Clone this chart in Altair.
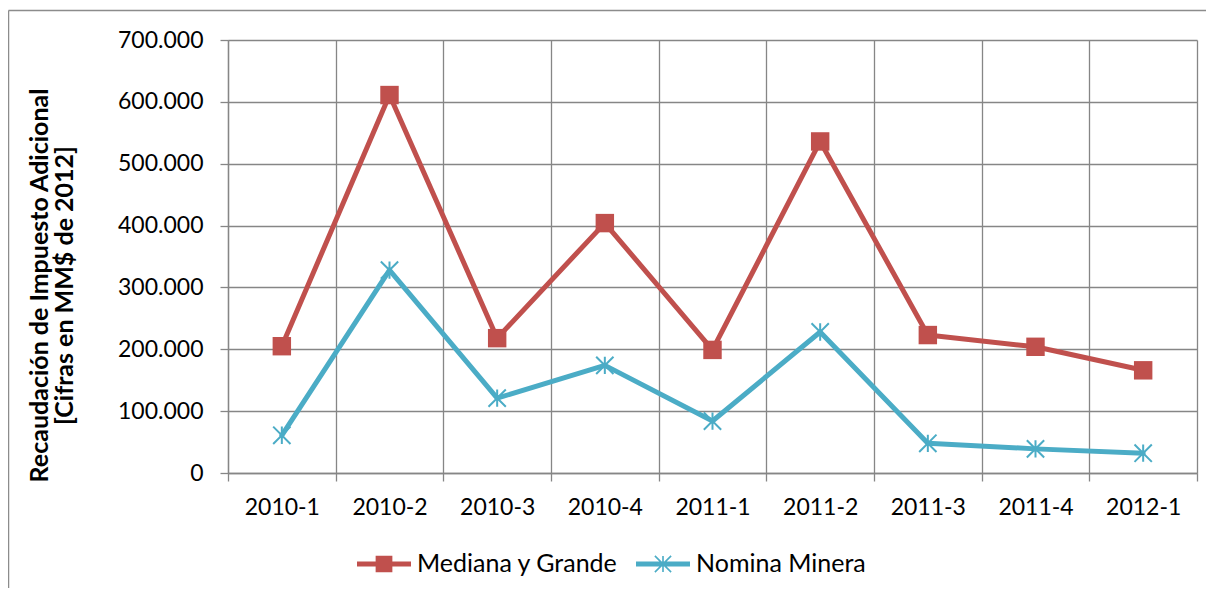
import altair as alt
import pandas as pd
import math

# ---- data ----
periods = ["2010-1", "2010-2", "2010-3", "2010-4", "2011-1",
           "2011-2", "2011-3", "2011-4", "2012-1"]
series_names = ["Mediana y Grande", "Nomina Minera"]
mediana_grande = [205000, 611000, 218000, 404000, 199000, 536000, 223000, 204000, 166000]
nomina_minera = [61000, 328000, 121000, 174000, 84000, 228000, 48000, 39000, 32000]
y_ticks = [0, 100000, 200000, 300000, 400000, 500000, 600000, 700000]
y_title = ["Recaudación de Impuesto Adicional", "[Cifras en MM$ de 2012]"]

colors = ["#C0504D", "#4BACC6"]
GRID = "#868686"
FONT = "Lato"

rows = []
for s, vals in zip(series_names, [mediana_grande, nomina_minera]):
    for p, v in zip(periods, vals):
        rows.append({"periodo": p, "serie": s, "valor": v})
df = pd.DataFrame(rows)

W, H = 969, 433

# marker / legend symbol paths (unit coordinates, scaled by sqrt(size)/2)
asterisk_marker = "M-1,-1L1,1M-1,1L1,-1M0,-1L0,1"


def bar(x1, y1, x2, y2, w):
    dx, dy = x2 - x1, y2 - y1
    L = math.hypot(dx, dy)
    nx, ny = -dy / L * w, dx / L * w
    pts = [(x1 + nx, y1 + ny), (x2 + nx, y2 + ny), (x2 - nx, y2 - ny), (x1 - nx, y1 - ny)]
    return "M" + "L".join(f"{a:.4f},{b:.4f}" for a, b in pts) + "Z"


lw = 0.095   # half thickness of the legend line
sq = 0.31    # half side of the legend square
a = 0.30     # half size of legend asterisk
w = 0.03
legend_square = bar(-1, 0, 1, 0, lw) + bar(-sq, 0, sq, 0, sq)
legend_asterisk = (bar(-1, 0, 1, 0, lw) + bar(-a, -a, a, a, w) + bar(-a, a, a, -a, w)
                   + bar(0, -a, 0, a, w))

color_scale = alt.Scale(domain=series_names, range=colors)
x_enc = alt.X(
    "periodo:N",
    sort=periods,
    scale=alt.Scale(type="band", paddingInner=0, paddingOuter=0),
    axis=alt.Axis(
        title=None, labelAngle=0, grid=True, tickBand="extent",
        gridColor=GRID, gridWidth=1.3, domainColor=GRID, domainWidth=1.3,
        tickColor=GRID, tickWidth=1.3, tickSize=8, labelPadding=15,
        labelFont=FONT, labelFontSize=23, labelColor="#000000",
    ),
)
y_enc = alt.Y(
    "valor:Q",
    scale=alt.Scale(domain=[0, 700000], nice=False),
    axis=alt.Axis(
        values=y_ticks, grid=True, gridColor=GRID, gridWidth=1.3,
        domainColor=GRID, domainWidth=1.3, tickColor=GRID, tickWidth=1.3,
        tickSize=8, labelPadding=17, labelFont=FONT, labelFontSize=23,
        labelColor="#000000",
        labelExpr="replace(format(datum.value, ','), ',', '.')",
        title=y_title, titleFont=FONT, titleFontSize=25, titleFontWeight="bold",
        titleColor="#000000", titleLineHeight=25, titleAngle=-90,
        titleX=-201, titleY=245, titleAlign="center", titleBaseline="top",
    ),
)

base = alt.Chart(df)
leg = dict(
    title=None, orient="none", direction="horizontal", legendX=129, legendY=497,
    symbolSize=2916, labelFont=FONT, labelFontSize=25, labelColor="#000000",
    labelOffset=6, columnPadding=17, symbolStrokeWidth=0, symbolOpacity=1,
    labelLimit=500,
)

legend_layer = base.mark_point(filled=True, opacity=0).encode(
    x=x_enc, y=y_enc,
    color=alt.Color("serie:N", scale=color_scale, legend=alt.Legend(**leg)),
    shape=alt.Shape(
        "serie:N",
        scale=alt.Scale(domain=series_names, range=[legend_square, legend_asterisk]),
        legend=alt.Legend(**leg),
    ),
)

lines = base.mark_line(strokeWidth=5, strokeJoin="round", strokeCap="round").encode(
    x=x_enc, y=y_enc,
    color=alt.Color("serie:N", scale=color_scale),
    detail="serie:N",
)

squares = base.transform_filter(alt.datum.serie == series_names[0]).mark_square(
    size=340, filled=True, opacity=1
).encode(x=x_enc, y=y_enc, color=alt.Color("serie:N", scale=color_scale))

stars = base.transform_filter(alt.datum.serie == series_names[1]).mark_point(
    shape=asterisk_marker, size=300, filled=False, strokeWidth=2, opacity=1
).encode(x=x_enc, y=y_enc, color=alt.Color("serie:N", scale=color_scale))

border_left = alt.Chart(pd.DataFrame({"k": [0]})).mark_rule(color="#8C8C8C", strokeWidth=1.5).encode(
    x=alt.value(-219.5), y=alt.value(-29.5), y2=alt.value(560)
)
border_top = alt.Chart(pd.DataFrame({"k": [0]})).mark_rule(color="#8C8C8C", strokeWidth=1.5).encode(
    x=alt.value(-219.5), x2=alt.value(990), y=alt.value(-29.5)
)

chart = alt.layer(border_left, border_top, legend_layer, lines, squares, stars).properties(
    width=W, height=H,
    autosize=alt.AutoSizeParams(type="none"),
    padding={"left": 220, "top": 32, "right": 9, "bottom": 115},
).configure_view(stroke=None)

chart.save("out.html", embed_options={"renderer": "svg", "actions": False})
